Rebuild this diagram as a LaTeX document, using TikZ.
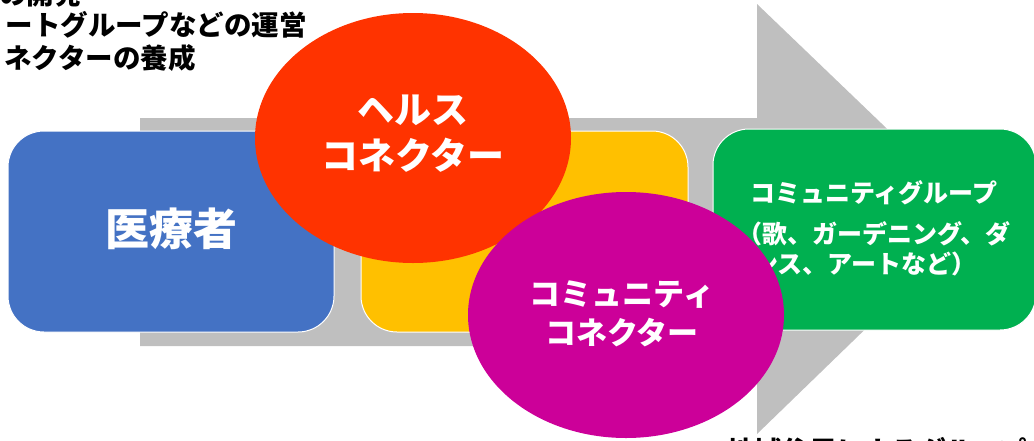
\documentclass[tikz,border=0pt]{standalone}
\usepackage{fontspec}
\newfontfamily\jp{Noto Sans CJK JP}
\definecolor{arrowgray}{HTML}{BFBFBF}
\definecolor{cblue}{HTML}{4472C4}
\definecolor{cyellow}{HTML}{FFC000}
\definecolor{cgreen}{HTML}{00B050}
\definecolor{cred}{HTML}{FF3300}
\definecolor{cmag}{HTML}{CC0099}
\tikzset{
  box/.style={draw=white, line width=1pt, rounded corners=36pt},
  wt/.style={text=white, font=\jp\bfseries, inner sep=0pt},
  gt/.style={text=white, font=\jp\bfseries\fontsize{25}{30}\selectfont, inner sep=0pt, anchor=west},
  bt/.style={text=black, font=\jp\bfseries\fontsize{27.5}{32}\selectfont, inner sep=0pt},
}
\begin{document}
\begin{tikzpicture}[x=1pt,y=-1pt]
\useasboundingbox (0,0) rectangle (1034,440);
\clip (0,0) rectangle (1034,440);
% big arrow
\fill[arrowgray] (140,118) -- (757,118) -- (757,4) -- (980,218) -- (757,434) -- (757,346) -- (140,346) -- cycle;
% boxes
\path[box, fill=cblue] (8,131) rectangle (334,332);
\path[box, fill=cyellow] (361,131) rectangle (688,332);
\path[box, fill=cgreen] (713,129) rectangle (1036,330);
\node[wt, font=\jp\bfseries\fontsize{44}{48}\selectfont] (a) at (171,229) {医療者};
\node[gt] (g1) at (750,193) {コミュニティグループ};
\node[gt] (g2) at (737,234) {（歌、ガーデニング、ダ};
\node[gt] (g3) at (753,264) {ンス、アートなど）};
% ellipses
\fill[cred] (413,138) ellipse [x radius=158, y radius=125];
\node[wt, font=\jp\bfseries\fontsize{37}{40}\selectfont, align=center] (h) at (413,134) {ヘルス\\[6pt]コネクター};
\fill[cmag] (626,315) ellipse [x radius=158, y radius=123];
\node[wt, font=\jp\bfseries\fontsize{31}{35}\selectfont, align=center] (c) at (622,314) {コミュニティ\\[4pt]コネクター};
% outside texts (as far as they are visible)
\node[bt, anchor=east] (t0) at (82,-6) {の開発};
\node[bt, anchor=east] (t1) at (307,25) {ートグループなどの運営};
\node[bt, anchor=east] (t2) at (196,58) {ネクターの養成};
\node[bt, anchor=west] (t3) at (727,451) {地域住民によるグループ};
\end{tikzpicture}
\end{document}
